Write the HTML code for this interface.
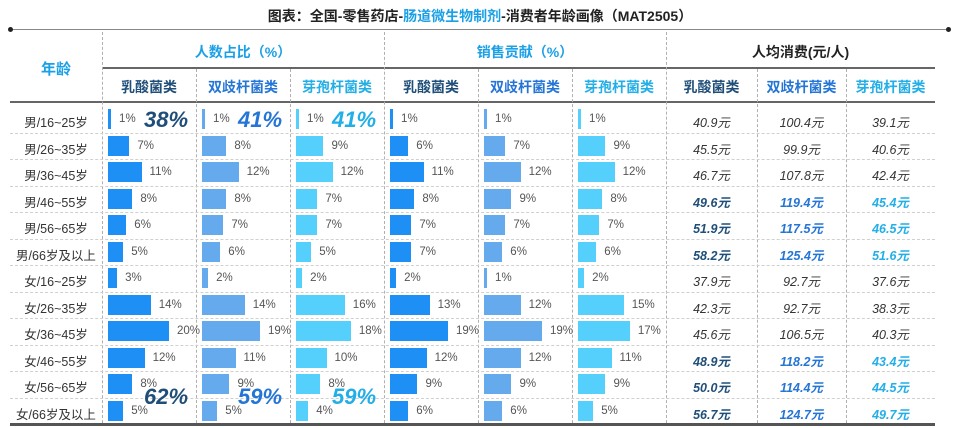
<!DOCTYPE html>
<html><head><meta charset="utf-8"><style>
body{margin:0;width:960px;height:428px;background:#fff;overflow:hidden;font-family:"Liberation Sans","Noto Sans CJK SC",sans-serif;position:relative}
.a{position:absolute}
.t{position:absolute;text-align:center;white-space:nowrap}
.vl{position:absolute;border-left:1px dashed #b0b0b0;width:0}
.hl{position:absolute;border-top:1px dashed #d0d0d0;height:0}
</style></head><body>
<div id="root"></div>
<script>
const ages=["男/16~25岁","男/26~35岁","男/36~45岁","男/46~55岁","男/56~65岁","男/66岁及以上","女/16~25岁","女/26~35岁","女/36~45岁","女/46~55岁","女/56~65岁","女/66岁及以上"];
const pop1=[1,7,11,8,6,5,3,14,20,12,8,5];
const pop2=[1,8,12,8,7,6,2,14,19,11,9,5];
const pop3=[1,9,12,7,7,5,2,16,18,10,8,4];
const sal1=[1,6,11,8,7,7,2,13,19,12,9,6];
const sal2=[1,7,12,9,7,6,1,12,19,12,9,6];
const sal3=[1,9,12,8,7,6,2,15,17,11,9,5];
const cost1=[40.9,45.5,46.7,49.6,51.9,58.2,37.9,42.3,45.6,48.9,50.0,56.7];
const cost2=[100.4,99.9,107.8,119.4,117.5,125.4,92.7,92.7,106.5,118.2,114.4,124.7];
const cost3=[39.1,40.6,42.4,45.4,46.5,51.6,37.6,38.3,40.3,43.4,44.5,49.7];
const maleTotals=["38%","41%","41%"];
const femaleTotals=["62%","59%","59%"];
const R=document.getElementById('root');
function mk(cls,css,txt,name){const d=document.createElement('div');d.className=cls;d.style.cssText=css;if(txt!==undefined)d.textContent=txt;


R.appendChild(d);return d;}
const subC=["#1f4e79","#2475d6","#22aee6"];
const barC=["#1e90f5","#66aaee","#55d0fc"];
// title
mk('t','left:0;width:960px;top:6px;font-size:14px;font-weight:bold;color:#222','', 'chart-title').innerHTML='图表：全国-零售药店-<span style="color:#1aa0e6">肠道微生物制剂</span>-消费者年龄画像（MAT2505）';
mk('a','left:10px;width:938px;top:29px;height:1px;background:#888','', 'title-rule');
mk('a','left:8px;top:27px;width:5px;height:5px;border-radius:3px;background:#222','', 'rule-dot-left');
mk('a','left:946px;top:27px;width:5px;height:5px;border-radius:3px;background:#222','', 'rule-dot-right');
// columns
const cols=[102,196,290,384,478,572,666,757,846,935];
const rowTop=106,rowH=26.5;
mk('t','left:10px;width:92px;top:58px;font-size:15px;font-weight:bold;color:#1aa0e6','年龄','age-header');
const groups=[["人数占比（%）","#1aa0e6"],["销售贡献（%）","#1aa0e6"],["人均消费(元/人)","#222"]];
groups.forEach((g,i)=>{mk('t',`left:${cols[i*3]}px;width:${cols[i*3+3]-cols[i*3]}px;top:42px;font-size:14px;font-weight:bold;color:${g[1]}`,g[0],'group-header');});
mk('a','left:102px;width:833px;top:67px;height:2px;background:#666','', 'group-rule');
const subs=["乳酸菌类","双歧杆菌类","芽孢杆菌类"];
for(let c=0;c<9;c++){mk('t',`left:${cols[c]}px;width:${cols[c+1]-cols[c]}px;top:77px;font-size:14px;font-weight:bold;color:${subC[c%3]}`,subs[c%3],'sub-header');}
mk('a','left:10px;width:925px;top:101px;height:2px;background:#666','', 'header-rule');
mk('a','left:10px;width:925px;top:423px;height:3px;background:#555','', 'bottom-rule');
for(let c=0;c<9;c++){const top=(c%3===0)?32:69;mk('vl',`left:${cols[c]}px;top:${top}px;height:${423-top}px`,undefined,'column-divider');}
for(let r=1;r<12;r++){mk('hl',`left:10px;width:925px;top:${rowTop+r*rowH}px`,undefined,'row-divider');}
const pcts=[pop1,pop2,pop3,sal1,sal2,sal3];
const costs=[cost1,cost2,cost3];
const sx=v=>Math.max(3,v*3.05);
for(let r=0;r<12;r++){
 const y=rowTop+r*rowH;
 mk('t',`left:10px;width:92px;top:${y+6}px;font-size:12.5px;color:#333`,ages[r],'age-label');
 pcts.forEach((arr,k)=>{const x0=cols[k]+6;const w=sx(arr[r]);
  mk('a',`left:${x0}px;top:${y+3}px;width:${w}px;height:20px;background:${barC[k%3]}`,'', 'bar');
  mk('a',`left:${x0+w+8}px;top:${y+7}px;font-size:11.5px;color:#555`,arr[r]+'%','bar-value');});
 const bold=(r>=3&&r<=5)||r>=9;
 costs.forEach((arr,k)=>{mk('t',`left:${cols[6+k]}px;width:${cols[7+k]-cols[6+k]}px;top:${y+6}px;font-size:12.5px;font-style:italic;${bold?'font-weight:bold;color:'+subC[k]:'color:#333'}`,arr[r].toFixed(1)+'元','cost-value');});
}
for(let k=0;k<3;k++){
 mk('a',`left:${cols[k]+42}px;top:${rowTop+1}px;font-size:22px;font-weight:bold;font-style:italic;color:${subC[k]}`,maleTotals[k],'male-total');
 mk('a',`left:${cols[k]+42}px;top:${rowTop+10*rowH+13}px;font-size:22px;font-weight:bold;font-style:italic;color:${subC[k]}`,femaleTotals[k],'female-total');
}
</script>
</body></html>
